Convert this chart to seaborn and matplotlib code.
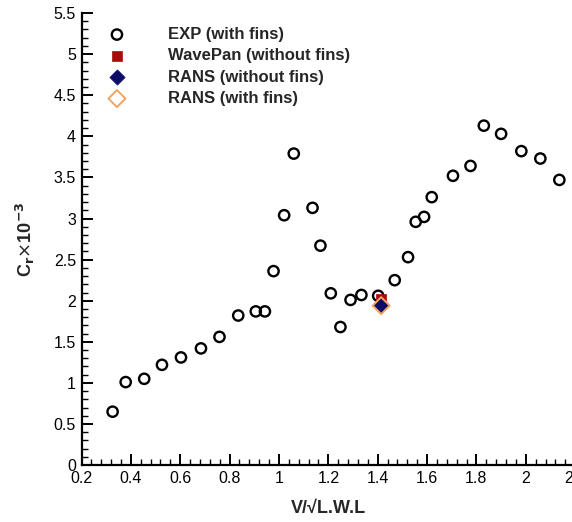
import matplotlib
matplotlib.use("Agg")
import matplotlib.pyplot as plt
from matplotlib.ticker import MultipleLocator
import seaborn as sns
import pandas as pd

# Experimental residual resistance (with fins)
exp_fr = [0.326, 0.379, 0.454, 0.526, 0.603, 0.684, 0.759, 0.835, 0.906, 0.943,
          0.978, 1.021, 1.060, 1.136, 1.168, 1.210, 1.249, 1.290, 1.334, 1.402,
          1.469, 1.523, 1.554, 1.588, 1.619, 1.705, 1.776, 1.830, 1.900, 1.982,
          2.059, 2.136]
exp_cr = [0.65, 1.01, 1.05, 1.22, 1.31, 1.42, 1.56, 1.82, 1.87, 1.87,
          2.36, 3.04, 3.79, 3.13, 2.67, 2.09, 1.68, 2.01, 2.07, 2.06,
          2.25, 2.53, 2.96, 3.02, 3.26, 3.52, 3.64, 4.13, 4.03, 3.82,
          3.73, 3.47]

# Numerical results at a single speed
wavepan_fr = [1.414]
wavepan_cr = [2.02]
rans_nofin_fr = [1.414]
rans_nofin_cr = [1.95]
rans_fin_fr = [1.414]
rans_fin_cr = [1.94]

xtick_vals = [0.2, 0.4, 0.6, 0.8, 1.0, 1.2, 1.4, 1.6, 1.8, 2.0, 2.2]
xtick_text = ["0.2", "0.4", "0.6", "0.8", "1", "1.2", "1.4", "1.6", "1.8", "2", "2.2"]
ytick_vals = [0, 0.5, 1, 1.5, 2, 2.5, 3, 3.5, 4, 4.5, 5, 5.5]
ytick_text = ["0", "0.5", "1", "1.5", "2", "2.5", "3", "3.5", "4", "4.5", "5", "5.5"]

sns.set_theme(style="ticks")
plt.rcParams["font.family"] = ["Liberation Sans", "DejaVu Sans"]

fig = plt.figure(figsize=(5.72, 5.22), dpi=100)
ax = fig.add_axes([0.1425, 0.109, 0.863, 0.866])

sns.scatterplot(data=pd.DataFrame({"x": exp_fr, "y": exp_cr}), x="x", y="y", ax=ax,
                marker="o", s=55, facecolor="none", edgecolor="black", linewidth=1.7,
                label="EXP (with fins)", zorder=3)
sns.scatterplot(data=pd.DataFrame({"x": wavepan_fr, "y": wavepan_cr}), x="x", y="y", ax=ax,
                marker="s", s=55, color="#a80c0c", edgecolor="#a80c0c", linewidth=0.5,
                label="WavePan (without fins)", zorder=4)
sns.scatterplot(data=pd.DataFrame({"x": rans_nofin_fr, "y": rans_nofin_cr}), x="x", y="y", ax=ax,
                marker="D", s=60, color="#0c0c66", edgecolor="#0c0c66", linewidth=0.5,
                label="RANS (without fins)", zorder=5)
sns.scatterplot(data=pd.DataFrame({"x": rans_fin_fr, "y": rans_fin_cr}), x="x", y="y", ax=ax,
                marker="D", s=75, facecolor="none", edgecolor="#f4a460", linewidth=1.4,
                label="RANS (with fins)", zorder=6)

ax.set_xlim(0.2, 2.2)
ax.set_ylim(0, 5.5)
ax.set_xticks(xtick_vals)
ax.set_xticklabels(xtick_text)
ax.set_yticks(ytick_vals)
ax.set_yticklabels(ytick_text)
ax.xaxis.set_minor_locator(MultipleLocator(0.04))
ax.yaxis.set_minor_locator(MultipleLocator(0.1))

ax.tick_params(axis="both", which="major", direction="in", length=8, width=1.4,
               labelsize=11.5, colors="black", pad=4)
ax.tick_params(axis="both", which="minor", direction="in", length=4, width=1.0, colors="black")
for side in ("top", "right"):
    ax.spines[side].set_visible(False)
for side in ("left", "bottom"):
    ax.spines[side].set_linewidth(1.6)
    ax.spines[side].set_color("black")

ax.set_xlabel("V/\u221aL.W.L", fontsize=13, fontweight="bold", labelpad=10)
ax.set_ylabel(r"C$_\mathbf{r}$$\times$10$^{\mathbf{-3}}$", fontsize=13, fontweight="bold",
              labelpad=12)

leg = ax.legend(loc="upper left", bbox_to_anchor=(0.0245, 0.984), frameon=False,
                prop={"size": 12, "weight": "bold"}, handletextpad=2.05,
                labelspacing=0.38, borderaxespad=0.0)

fig.savefig("out.png", dpi=100)
